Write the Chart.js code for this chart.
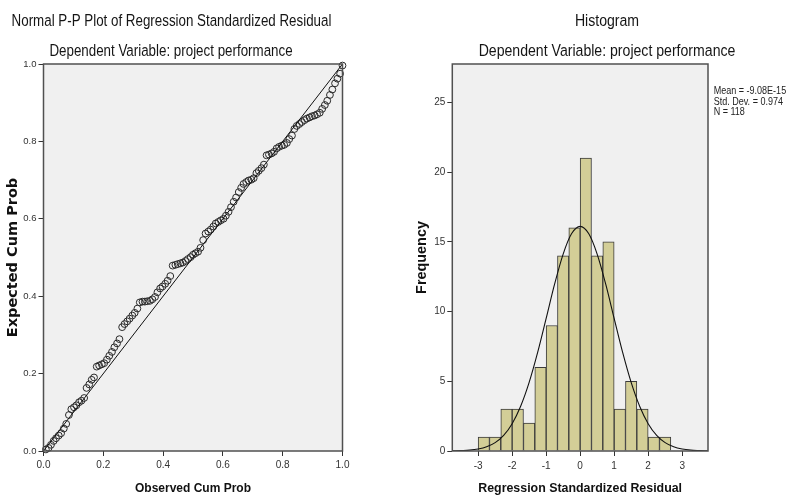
<!DOCTYPE html>
<html><head><meta charset="utf-8">
<script src="https://cdn.jsdelivr.net/npm/chart.js@4.4.1/dist/chart.umd.min.js"></script>
<style>
html,body{margin:0;padding:0;background:#fff;overflow:hidden;}
#wrap{position:relative;width:786px;height:497px;}
canvas{position:absolute;top:0;}
#c1{left:0;} #c2{left:393px;}
</style></head><body>
<div id="wrap"><canvas id="c1" width="393" height="497"></canvas><canvas id="c2" width="393" height="497"></canvas></div>
<script>
// ---------- P-P plot data ----------
const ppObserved = [0.008,0.017,0.025,0.034,0.042,0.051,0.059,0.068,0.076,0.085,
0.093,0.102,0.110,0.119,0.127,0.136,0.144,0.153,0.161,0.169,
0.178,0.186,0.195,0.203,0.212,0.220,0.229,0.237,0.246,0.254,
0.263,0.271,0.280,0.288,0.297,0.305,0.314,0.322,0.331,0.339,
0.347,0.356,0.364,0.373,0.381,0.390,0.398,0.407,0.415,0.424,
0.432,0.441,0.449,0.458,0.466,0.475,0.483,0.492,0.500,0.508,
0.517,0.525,0.534,0.542,0.551,0.559,0.568,0.576,0.585,0.593,
0.602,0.610,0.619,0.627,0.636,0.644,0.653,0.661,0.669,0.678,
0.686,0.695,0.703,0.712,0.720,0.729,0.737,0.746,0.754,0.763,
0.771,0.780,0.788,0.797,0.805,0.814,0.822,0.831,0.839,0.847,
0.856,0.864,0.873,0.881,0.890,0.898,0.907,0.915,0.924,0.932,
0.941,0.949,0.958,0.966,0.975,0.983,0.992,1.000];
const ppExpected = [0.004,0.008,0.016,0.026,0.033,0.040,0.046,0.058,0.070,0.093,
0.108,0.113,0.118,0.126,0.130,0.137,0.163,0.172,0.184,0.190,
0.218,0.221,0.224,0.227,0.236,0.246,0.256,0.268,0.278,0.289,
0.320,0.328,0.335,0.342,0.350,0.357,0.368,0.384,0.386,0.386,
0.387,0.388,0.392,0.398,0.410,0.420,0.425,0.432,0.440,0.452,
0.479,0.481,0.483,0.485,0.487,0.491,0.496,0.501,0.507,0.511,
0.515,0.525,0.545,0.562,0.567,0.572,0.580,0.588,0.592,0.596,
0.600,0.608,0.618,0.630,0.644,0.655,0.669,0.680,0.690,0.695,
0.699,0.701,0.705,0.718,0.724,0.731,0.740,0.764,0.766,0.769,
0.773,0.782,0.786,0.789,0.791,0.796,0.806,0.815,0.832,0.840,
0.845,0.850,0.855,0.859,0.862,0.865,0.867,0.870,0.874,0.884,
0.894,0.905,0.920,0.934,0.950,0.962,0.975,0.996];
const refLineX = [0, 1];
const refLineY = [0, 1];
const ppTicks = [0, 0.2, 0.4, 0.6, 0.8, 1.0];

// ---------- Histogram data ----------
const binCenters = [-2.8333,-2.5,-2.1667,-1.8333,-1.5,-1.1667,-0.8333,-0.5,-0.1667,0.1667,0.5,0.8333,1.1667,1.5,1.8333,2.1667,2.5];
const binCounts  = [1,1,3,3,2,6,9,14,16,21,14,15,3,5,3,1,1];
const curveX = [-3.75,-3.5,-3.25,-3,-2.75,-2.5,-2.25,-2,-1.75,-1.5,-1.25,-1,-0.75,-0.5,-0.25,0,
0.25,0.5,0.75,1,1.25,1.5,1.75,2,2.25,2.5,2.75,3,3.25,3.5,3.75];
const curveY = [0.01,0.03,0.06,0.14,0.30,0.60,1.12,1.96,3.21,4.92,7.07,9.51,11.98,14.12,15.59,16.11,
15.59,14.12,11.98,9.51,7.07,4.92,3.21,1.96,1.12,0.60,0.30,0.14,0.06,0.03,0.01];
const histXTicks = [-3,-2,-1,0,1,2,3];
const histYTicks = [0,5,10,15,20,25];
const statLines = ['Mean = -9.08E-15','Std. Dev. = 0.974','N = 118'];

const ppTitle = 'Normal P-P Plot of Regression Standardized Residual';
const ppSubtitle = 'Dependent Variable: project performance';
const histTitle = 'Histogram';
const histSubtitle = 'Dependent Variable: project performance';

const SANS = "'Liberation Sans',Arial,sans-serif";

const framePlugin = {
  id: 'frame',
  beforeDraw(chart) {
    const {ctx, chartArea: a} = chart;
    ctx.save(); ctx.fillStyle = '#f0f0f0';
    ctx.fillRect(a.left, a.top, a.right - a.left, a.bottom - a.top); ctx.restore();
  },
  afterDatasetsDraw(chart) {
    const {ctx, chartArea: a} = chart;
    ctx.save(); ctx.strokeStyle = '#505050'; ctx.lineWidth = 1.5;
    ctx.strokeRect(a.left, a.top, a.right - a.left, a.bottom - a.top); ctx.restore();
  }
};
// Text drawn as real canvas text; horizontally condensed to mimic a narrow face.
function textPlugin(items) {
  return { id: 'texts', afterDraw(chart) {
    const ctx = chart.ctx;
    for (const t of items) {
      ctx.save();
      ctx.font = t.font; ctx.fillStyle = t.color || '#151515';
      ctx.textAlign = t.align || 'center'; ctx.textBaseline = 'alphabetic';
      ctx.translate(t.x, t.y); ctx.scale(t.sx || 0.82, 1);
      ctx.fillText(t.text, 0, 0);
      ctx.restore();
    }
  }};
}

Chart.defaults.animation = false;

// ---------- Left chart ----------
new Chart(document.getElementById('c1'), {
  type: 'scatter',
  data: { datasets: [
    { type: 'line', data: refLineX.map((x, i) => ({x, y: refLineY[i]})), borderColor: '#111', borderWidth: 1,
      pointRadius: 0, fill: false, tension: 0, clip: false },
    { data: ppObserved.map((x, i) => ({x, y: ppExpected[i]})), pointStyle: 'circle', pointRadius: 3.4,
      borderColor: '#2a2a2a', borderWidth: 1, backgroundColor: 'rgba(0,0,0,0)', clip: false }
  ]},
  options: {
    responsive: false, animation: false,
    layout: { padding: { left: 0, right: 50.5, top: 64, bottom: 0 } },
    plugins: { legend: { display: false }, tooltip: { enabled: false } },
    scales: {
      x: { type: 'linear', min: 0, max: 1,
        afterFit(s) { s.height = 46; },
        afterBuildTicks(s) { s.ticks = ppTicks.map(v => ({value: v})); },
        ticks: { callback: v => Number(v).toFixed(1), font: {family: SANS, size: 10}, color: '#333', padding: 3, maxRotation: 0, autoSkip: false },
        grid: { drawOnChartArea: false, drawTicks: true, tickLength: 5, color: '#333' },
        border: { display: false },
        title: { display: true, text: 'Observed Cum Prob', font: {family: SANS, size: 12, weight: 'bold'}, color: '#111', padding: {top: 0, bottom: 1} } },
      y: { type: 'linear', min: 0, max: 1,
        afterFit(s) { s.width = 43.5; },
        afterBuildTicks(s) { s.ticks = ppTicks.map(v => ({value: v})); },
        ticks: { callback: v => Number(v).toFixed(1), font: {family: SANS, size: 9.5}, color: '#333', padding: 2, autoSkip: false },
        grid: { drawOnChartArea: false, drawTicks: true, tickLength: 5, color: '#333' },
        border: { display: false },
        title: { display: true, text: 'Expected Cum Prob', font: {family: "'DejaVu Sans',sans-serif", size: 14.5, weight: 'bold'}, color: '#111', padding: {top: 5, bottom: 0} } }
    }
  },
  plugins: [framePlugin, textPlugin([
    { text: ppTitle, x: 171.5, y: 26, font: `16.3px ${SANS}` },
    { text: ppSubtitle, x: 171, y: 56, font: `16.3px ${SANS}` }
  ])]
});

// ---------- Right chart ----------
new Chart(document.getElementById('c2'), {
  type: 'bar',
  data: { datasets: [
    { type: 'line', data: curveX.map((x, i) => ({x, y: curveY[i]})), borderColor: '#111', borderWidth: 1.1,
      pointRadius: 0, fill: false, cubicInterpolationMode: 'monotone', order: 0 },
    { type: 'bar', data: binCenters.map((x, i) => ({x, y: binCounts[i]})), backgroundColor: '#d3ce97',
      borderColor: '#3a3a3a', borderWidth: 1, barPercentage: 1, categoryPercentage: 1, order: 1 }
  ]},
  options: {
    responsive: false, animation: false,
    layout: { padding: { left: 0, right: 78, top: 64, bottom: 0 } },
    plugins: { legend: { display: false }, tooltip: { enabled: false } },
    scales: {
      x: { type: 'linear', min: -3.76, max: 3.76, offset: false,
        afterFit(s) { s.height = 46; },
        afterBuildTicks(s) { s.ticks = histXTicks.map(v => ({value: v})); },
        ticks: { callback: v => String(v), font: {family: SANS, size: 10}, color: '#333', padding: 4, maxRotation: 0, autoSkip: false },
        grid: { drawOnChartArea: false, drawTicks: true, tickLength: 5, color: '#333', offset: false },
        border: { display: false },
        title: { display: true, text: 'Regression Standardized Residual', font: {family: SANS, size: 12.4, weight: 'bold'}, color: '#111', padding: {top: 0, bottom: 1} } },
      y: { type: 'linear', min: 0, max: 27.75,
        afterFit(s) { s.width = 59.3; },
        afterBuildTicks(s) { s.ticks = histYTicks.map(v => ({value: v})); },
        ticks: { callback: v => String(v), font: {family: SANS, size: 10}, color: '#333', padding: 2, autoSkip: false },
        grid: { drawOnChartArea: false, drawTicks: true, tickLength: 5, color: '#333' },
        border: { display: false },
        title: { display: true, text: 'Frequency', font: {family: SANS, size: 14.4, weight: 'bold'}, color: '#111', padding: {top: 20.5, bottom: 0} } }
    }
  },
  plugins: [framePlugin, textPlugin([
    { text: histTitle, x: 214, y: 26, font: `17.2px ${SANS}` },
    { text: histSubtitle, x: 214, y: 56, font: `17.2px ${SANS}` },
    { text: statLines[0], x: 320.7, y: 94, font: `11px ${SANS}`, align: 'left', color: '#222' },
    { text: statLines[1], x: 320.7, y: 104.5, font: `11px ${SANS}`, align: 'left', color: '#222' },
    { text: statLines[2], x: 320.7, y: 115, font: `11px ${SANS}`, align: 'left', color: '#222' }
  ])]
});
</script>
</body></html>
